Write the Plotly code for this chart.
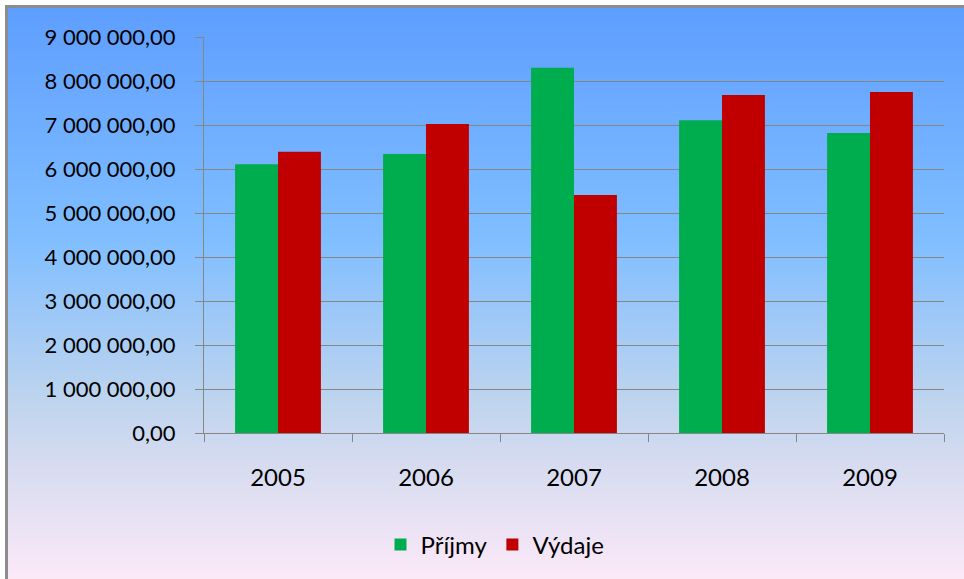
import plotly.graph_objects as go

years = ["2005", "2006", "2007", "2008", "2009"]
prijmy = [6110000, 6340000, 8300000, 7110000, 6820000]
vydaje = [6390000, 7020000, 5410000, 7680000, 7750000]
names = ["Příjmy", "Výdaje"]
colors = ["#00AD4E", "#C00000"]

W, H = 964, 579
L, R, T, B = 204, 20, 37, 146
pw, ph = W - L - R, H - T - B

def px_x(p):
    return (p - L) / pw

def px_y(p):
    return (H - B - p) / ph

stops = [(8, (94, 158, 255)), (240, (128, 190, 255)), (400, (190, 212, 238)),
         (470, (216, 220, 240)), (579, (252, 233, 248))]

def col_at(y):
    for (y0, c0), (y1, c1) in zip(stops, stops[1:]):
        if y0 <= y <= y1:
            t = (y - y0) / (y1 - y0)
            return "rgb(%d,%d,%d)" % tuple(round(a + (b - a) * t) for a, b in zip(c0, c1))
    return "rgb(%d,%d,%d)" % stops[-1][1]

shapes = []
step = 3
for y in range(8, 579, step):
    shapes.append(dict(type="rect", xref="paper", yref="paper", layer="below",
                       x0=px_x(7), x1=px_x(964), y0=px_y(y + step), y1=px_y(y),
                       fillcolor=col_at(y + step / 2), line=dict(width=0)))
# border lines (top and left)
shapes.append(dict(type="rect", xref="paper", yref="paper", layer="below",
                   x0=px_x(5), x1=px_x(964), y0=px_y(8), y1=px_y(5),
                   fillcolor="#8C8C8C", line=dict(width=0)))
shapes.append(dict(type="rect", xref="paper", yref="paper", layer="below",
                   x0=px_x(5), x1=px_x(8), y0=px_y(579), y1=px_y(5),
                   fillcolor="#8C8C8C", line=dict(width=0)))

fig = go.Figure()
fig.add_trace(go.Bar(x=years, y=prijmy, name=names[0], marker=dict(color=colors[0], line=dict(width=0))))
fig.add_trace(go.Bar(x=years, y=vydaje, name=names[1], marker=dict(color=colors[1], line=dict(width=0))))

font = "Lato, 'Open Sans', sans-serif"
fig.update_layout(
    width=W, height=H,
    margin=dict(l=L, r=R, t=T, b=B, pad=0),
    paper_bgcolor="white", plot_bgcolor="rgba(0,0,0,0)",
    barmode="group", bargap=0.42, bargroupgap=0,
    separators=", ",
    font=dict(family=font, size=22, color="#000000"),
    shapes=shapes,
    showlegend=True,
    legend=dict(orientation="h", x=px_x(495), xanchor="center", y=px_y(545), yanchor="middle",
                font=dict(family=font, size=24), bgcolor="rgba(0,0,0,0)", itemwidth=30,
                traceorder="normal"),
    xaxis=dict(showline=True, linecolor="#868686", linewidth=1, ticks="outside", ticklen=8,
               tickcolor="#868686", tickson="boundaries", showgrid=False,
               tickfont=dict(family=font, size=24), ticklabelstandoff=23),
    yaxis=dict(range=[0, 9000000], dtick=1000000, tickformat=",.2f", showline=True,
               linecolor="#868686", linewidth=1, ticks="outside", ticklen=8, tickcolor="#868686",
               showgrid=True, gridcolor="#868686", gridwidth=1, zeroline=False,
               tickfont=dict(family=font, size=22), ticklabelstandoff=15),
)

fig.write_html("out.html", config={"displayModeBar": False},
               post_script="document.body.style.margin='0';document.body.style.overflow='hidden';")
